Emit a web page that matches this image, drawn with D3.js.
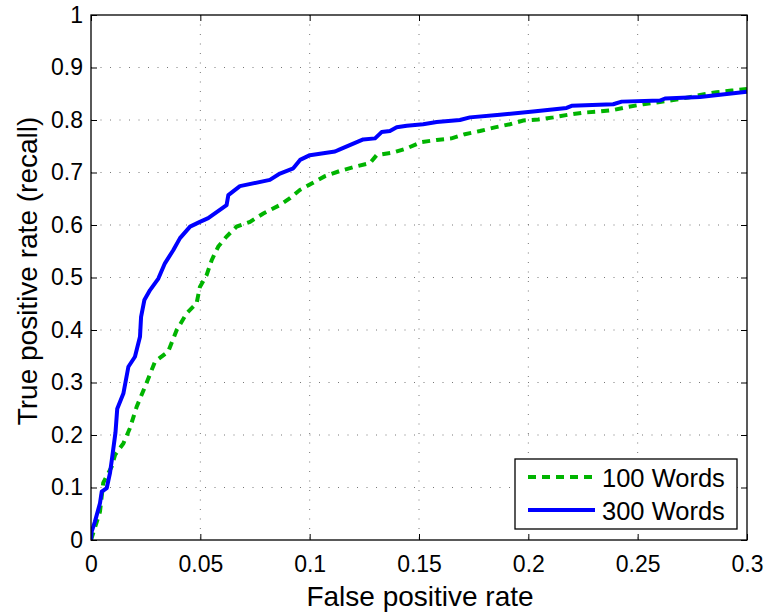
<!DOCTYPE html>
<html>
<head>
<meta charset="utf-8">
<script src="https://cdn.jsdelivr.net/npm/d3@7"></script>
<style>
  html, body { margin: 0; padding: 0; background: #fff; }
  svg text { font-family: "Liberation Sans", Arial, Helvetica, sans-serif; fill: #000; }
</style>
</head>
<body>
<svg id="chart" width="768" height="615"></svg>
<script>
// ---- Data ----
const xTicks = [0, 0.05, 0.1, 0.15, 0.2, 0.25, 0.3];
const xTickLabels = ["0", "0.05", "0.1", "0.15", "0.2", "0.25", "0.3"];
const yTicks = [0, 0.1, 0.2, 0.3, 0.4, 0.5, 0.6, 0.7, 0.8, 0.9, 1];
const yTickLabels = ["0", "0.1", "0.2", "0.3", "0.4", "0.5", "0.6", "0.7", "0.8", "0.9", "1"];
const seriesNames = ["100 Words", "300 Words"];

const fpr100 = [0, 0.0041, 0.0056, 0.0095, 0.011, 0.0148, 0.0178, 0.0209, 0.0247, 0.0293, 0.0353, 0.0392,
  0.0438, 0.0483, 0.0498, 0.0529, 0.0552, 0.0582, 0.0620, 0.0666, 0.0727, 0.0788, 0.0864, 0.0910, 0.0956,
  0.1009, 0.1070, 0.1139, 0.1207, 0.1276, 0.1306, 0.1382, 0.1444, 0.1512, 0.1581, 0.1649, 0.1710, 0.1779,
  0.1847, 0.1916, 0.1977, 0.2045, 0.2114, 0.2182, 0.2251, 0.2320, 0.2388, 0.2457, 0.2525, 0.2594, 0.2663,
  0.2731, 0.2792, 0.2861, 0.2930, 0.3];
const tpr100 = [0, 0.054, 0.109, 0.140, 0.162, 0.184, 0.213, 0.254, 0.292, 0.340, 0.359, 0.400,
  0.432, 0.451, 0.482, 0.505, 0.533, 0.559, 0.578, 0.597, 0.606, 0.622, 0.638, 0.651, 0.667,
  0.679, 0.693, 0.703, 0.711, 0.718, 0.733, 0.738, 0.746, 0.758, 0.762, 0.765, 0.773, 0.779,
  0.786, 0.792, 0.799, 0.801, 0.805, 0.810, 0.814, 0.816, 0.819, 0.825, 0.830, 0.834, 0.838,
  0.843, 0.848, 0.853, 0.856, 0.859];

const fpr300 = [0, 0.0003, 0.0018, 0.0041, 0.0049, 0.0072, 0.0087, 0.0095, 0.0112, 0.0120, 0.0148, 0.0171,
  0.0201, 0.0224, 0.0229, 0.0244, 0.0270, 0.0308, 0.0338, 0.0376, 0.0407, 0.0453, 0.0498, 0.0536, 0.0620,
  0.0628, 0.0681, 0.0818, 0.0864, 0.0925, 0.0956, 0.1001, 0.1116, 0.1138, 0.1245, 0.1299, 0.1329, 0.1367,
  0.1398, 0.1444, 0.1519, 0.1581, 0.1687, 0.1733, 0.1870, 0.2022, 0.2175, 0.2198, 0.2388, 0.2427, 0.2602,
  0.2625, 0.2785, 0.3];
const tpr300 = [0, 0.016, 0.035, 0.070, 0.092, 0.099, 0.128, 0.152, 0.205, 0.250, 0.279, 0.330,
  0.349, 0.387, 0.425, 0.457, 0.476, 0.498, 0.527, 0.552, 0.575, 0.597, 0.606, 0.613, 0.638,
  0.657, 0.674, 0.686, 0.698, 0.708, 0.724, 0.733, 0.740, 0.744, 0.763, 0.765, 0.777, 0.779,
  0.786, 0.789, 0.792, 0.796, 0.800, 0.805, 0.810, 0.816, 0.823, 0.827, 0.830, 0.835, 0.837,
  0.841, 0.844, 0.854];

// ---- Layout ----
const W = 768, H = 615;
const m = { left: 91, top: 15, right: 20, bottom: 74 };
const pw = 747 - m.left, ph = 540 - m.top;

const svg = d3.select("#chart");
const x = d3.scaleLinear().domain([0, 0.3]).range([m.left, m.left + pw]);
const y = d3.scaleLinear().domain([0, 1]).range([m.top + ph, m.top]);

svg.append("rect").attr("x", 0).attr("y", 0).attr("width", W).attr("height", H).attr("fill", "#fff");

// Grid
const grid = svg.append("g");
grid.selectAll(".gx").data(xTicks.slice(1, -1)).enter().append("line")
  .attr("x1", d => x(d)).attr("x2", d => x(d))
  .attr("y1", m.top).attr("y2", m.top + ph)
  .attr("stroke", "#777").attr("stroke-width", 1).attr("stroke-dasharray", "1,8.5");
grid.selectAll(".gy").data(yTicks.slice(1, -1)).enter().append("line")
  .attr("x1", m.left).attr("x2", m.left + pw)
  .attr("y1", d => y(d)).attr("y2", d => y(d))
  .attr("stroke", "#777").attr("stroke-width", 1).attr("stroke-dasharray", "1,8.5");

// Axes (ticks inward on all four sides)
const tickLen = 6;
const xAxisB = d3.axisBottom(x).tickValues(xTicks).tickFormat((d, i) => xTickLabels[i]).tickSizeInner(-tickLen).tickSizeOuter(0).tickPadding(16);
const xAxisT = d3.axisTop(x).tickValues(xTicks).tickFormat("").tickSizeInner(-tickLen).tickSizeOuter(0);
const yAxisL = d3.axisLeft(y).tickValues(yTicks).tickFormat((d, i) => yTickLabels[i]).tickSizeInner(-tickLen).tickSizeOuter(0).tickPadding(8);
const yAxisR = d3.axisRight(y).tickValues(yTicks).tickFormat("").tickSizeInner(-tickLen).tickSizeOuter(0);

function styleAxis(g) {
  g.select(".domain").remove();
  g.selectAll(".tick line").attr("stroke", "#000").attr("stroke-width", 1);
  g.selectAll(".tick text").style("font-size", "23px").attr("fill", "#000");
}
svg.append("g").attr("transform", `translate(0,${m.top + ph})`).call(xAxisB).call(styleAxis);
svg.append("g").attr("transform", `translate(0,${m.top})`).call(xAxisT).call(styleAxis);
svg.append("g").attr("transform", `translate(${m.left},0)`).call(yAxisL).call(styleAxis);
svg.append("g").attr("transform", `translate(${m.left + pw},0)`).call(yAxisR).call(styleAxis);

svg.append("clipPath").attr("id", "clip").append("rect")
  .attr("x", m.left).attr("y", m.top).attr("width", pw).attr("height", ph);

const line = d3.line().x(d => x(d[0])).y(d => y(d[1]));
const d100 = fpr100.map((v, i) => [v, tpr100[i]]);
const d300 = fpr300.map((v, i) => [v, tpr300[i]]);

const green = "#00b400", blue = "#0000ff";
svg.append("path").datum(d100).attr("d", line).attr("clip-path", "url(#clip)")
  .attr("fill", "none").attr("stroke", green).attr("stroke-width", 4).attr("stroke-dasharray", "8,6");
svg.append("path").datum(d300).attr("d", line).attr("clip-path", "url(#clip)")
  .attr("fill", "none").attr("stroke", blue).attr("stroke-width", 4).attr("stroke-linejoin", "round");

// Frame
svg.append("rect").attr("x", m.left).attr("y", m.top).attr("width", pw).attr("height", ph)
  .attr("fill", "none").attr("stroke", "#000").attr("stroke-width", 1.3);

// Axis labels
svg.append("text").attr("x", m.left + pw / 2 + 1).attr("y", 606).attr("text-anchor", "middle")
  .style("font-size", "28px").text("False positive rate");
svg.append("text").attr("transform", "translate(37,271) rotate(-90)").attr("text-anchor", "middle")
  .style("font-size", "28px").text("True positive rate (recall)");

// Legend
const lg = svg.append("g");
lg.append("rect").attr("x", 515).attr("y", 459).attr("width", 222).attr("height", 70)
  .attr("fill", "#fff").attr("stroke", "#000").attr("stroke-width", 1.3);
const legendRows = [
  { name: seriesNames[0], color: green, dash: "8,6", yy: 477 },
  { name: seriesNames[1], color: blue, dash: null, yy: 510 }
];
legendRows.forEach(r => {
  lg.append("line").attr("x1", 528).attr("x2", 595).attr("y1", r.yy).attr("y2", r.yy)
    .attr("stroke", r.color).attr("stroke-width", 4).attr("stroke-dasharray", r.dash);
  lg.append("text").attr("x", 602).attr("y", r.yy + 9.5).style("font-size", "25.5px").text(r.name);
});
</script>
</body>
</html>
